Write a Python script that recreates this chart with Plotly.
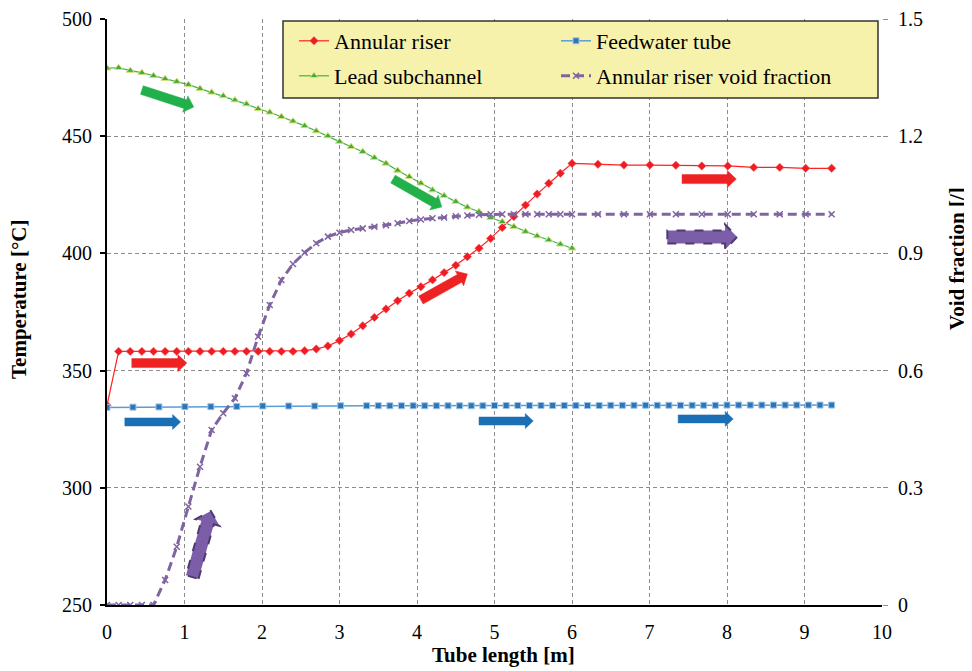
import plotly.graph_objects as go

# ---------------- data ----------------
riser_x = [0, 0.15, 0.3, 0.45, 0.6, 0.75, 0.9, 1.05, 1.2, 1.35, 1.5, 1.65, 1.8, 1.95, 2.1, 2.25, 2.4,
           2.55, 2.7, 2.85, 3.0, 3.15, 3.3, 3.45, 3.6, 3.75, 3.9, 4.05, 4.2, 4.35, 4.5, 4.65, 4.8,
           4.95, 5.1, 5.25, 5.4, 5.55, 5.7, 5.85, 6.0,
           6.335, 6.67, 7.005, 7.34, 7.675, 8.01, 8.345, 8.68, 9.015, 9.35]
riser_T = [335.2, 358.2, 358.2, 358.2, 358.2, 358.2, 358.2, 358.2, 358.2, 358.2, 358.2, 358.2, 358.2,
           358.2, 358.2, 358.2, 358.2,
           358.5, 359.2, 360.5, 362.8, 365.6, 369.1, 372.7, 376.3, 379.8, 383.0, 385.8, 388.7, 391.8,
           394.9, 398.6, 402.2, 406.4, 411.0, 415.7, 420.6, 425.3, 429.9, 434.2, 438.4,
           438.0, 437.7, 437.7, 437.6, 437.3, 437.3, 436.7, 436.7, 436.3, 436.3]

feed_x = [0, 0.335, 0.67, 1.005, 1.34, 1.675, 2.01, 2.345, 2.68, 3.015, 3.35,
          3.5, 3.65, 3.8, 3.95, 4.1, 4.25, 4.4, 4.55, 4.7, 4.85, 5.0, 5.15, 5.3, 5.45, 5.6, 5.75,
          5.9, 6.05, 6.2, 6.35, 6.5, 6.65, 6.8, 6.95, 7.1, 7.25, 7.4, 7.55, 7.7, 7.85, 8.0, 8.15,
          8.3, 8.45, 8.6, 8.75, 8.9, 9.05, 9.2, 9.35]
feed_T = [334.3, 334.4, 334.5, 334.6, 334.6, 334.7, 334.9, 334.9, 334.9, 335.0, 335.0,
          335.0, 335.0, 335.0, 335.0, 335.0, 335.0, 335.0, 335.0, 335.0, 335.0,
          335.1, 335.1, 335.1, 335.1, 335.1, 335.1, 335.1, 335.1, 335.1, 335.1,
          335.2, 335.2, 335.2, 335.2, 335.2, 335.2, 335.2, 335.2, 335.2, 335.2,
          335.3, 335.3, 335.3, 335.3, 335.3, 335.3, 335.3, 335.3, 335.3, 335.3]

lead_x = [0, 0.15, 0.3, 0.45, 0.6, 0.75, 0.9, 1.05, 1.2, 1.35, 1.5, 1.65, 1.8, 1.95, 2.1, 2.25, 2.4,
          2.55, 2.7, 2.85, 3.0, 3.15, 3.3, 3.45, 3.6, 3.75, 3.9, 4.05, 4.2, 4.35, 4.5, 4.65, 4.8,
          4.95, 5.1, 5.25, 5.4, 5.55, 5.7, 5.85, 6.0]
lead_T = [479.0, 479.2, 478.0, 477.1, 475.8, 474.5, 473.3, 472.0, 470.3, 468.7, 467.2, 465.4, 463.7,
          461.7, 460.2, 458.3, 456.4, 454.4, 452.2, 450.1, 447.7, 445.5, 443.4, 440.8, 438.4, 435.4,
          432.7, 429.9, 427.0, 424.6, 422.1, 419.7, 417.8, 415.2, 413.5, 411.4, 409.3, 407.4, 405.7,
          403.9, 402.2]

void_x = riser_x
void_a = [0, 0, 0, 0, 0, 0.064, 0.149, 0.252, 0.354, 0.448, 0.491, 0.529, 0.593, 0.687, 0.768, 0.832,
          0.873, 0.902, 0.926, 0.943, 0.953, 0.960, 0.964, 0.968, 0.972, 0.977, 0.983, 0.987, 0.990,
          0.992, 0.995, 0.997, 0.999, 1.0, 1.0, 1.0, 1.0, 1.0, 1.0, 1.0, 1.0,
          1.0, 1.0, 1.0, 1.0, 1.0, 1.0, 1.0, 1.0, 1.0, 1.0]

x_ticks = [0, 1, 2, 3, 4, 5, 6, 7, 8, 9, 10]
yl_ticks = [250, 300, 350, 400, 450, 500]
yr_ticks = [0, 0.3, 0.6, 0.9, 1.2, 1.5]
yr_labels = ["0", "0.3", "0.6", "0.9", "1.2", "1.5"]

x_title = "Tube length [m]"
yl_title = "Temperature [°C]"
yr_title = "Void fraction [/]"

# flow-direction arrows: (tail x, tail T, tip x, tip T, style)
arrows = [
    (0.32, 353.2, 1.03, 353.2, "red"),
    (4.05, 380.1, 4.65, 391.2, "red"),
    (7.42, 431.7, 8.12, 431.7, "red"),
    (0.45, 469.7, 1.12, 462.5, "green"),
    (3.69, 431.7, 4.32, 419.8, "green"),
    (0.23, 328.1, 0.95, 328.1, "blue"),
    (4.80, 328.5, 5.50, 328.5, "blue"),
    (7.37, 329.4, 8.08, 329.4, "blue"),
    (1.10, 261.9, 1.34, 290.1, "purple"),
    (7.23, 407.0, 8.13, 407.0, "purple"),
]

# ---------------- layout geometry (page has an 8px body margin) ----------------
OFF = 8
W, H = 972 - OFF, 671 - OFF
ML, MT = 107 - OFF, 19 - OFF
PW, PH = 775, 586
MR, MB = W - ML - PW, H - MT - PH
XR = (0, 10)
YR = (250, 500)

FONT = "'Liberation Serif', 'Times New Roman', Times, serif"


def px_to_paper(px, py):
    """page pixel -> paper fraction"""
    fx, fy = px - OFF, py - OFF
    return (fx - ML) / PW, 1 - (fy - MT) / PH


fig = go.Figure()

fig.add_trace(go.Scatter(
    x=riser_x, y=riser_T, name="Annular riser", mode="lines+markers", legend="legend",
    line=dict(color="#ff2020", width=1.2),
    marker=dict(symbol="diamond", size=6.5, color="#ee1c24", line=dict(color="#ff6060", width=0.5))))
fig.add_trace(go.Scatter(
    x=feed_x, y=feed_T, name="Feedwater tube", mode="lines+markers", legend="legend2",
    line=dict(color="#5b9bd5", width=1.5),
    marker=dict(symbol="square", size=6, color="#2e75b6", line=dict(color="#9dc3e6", width=1))))
fig.add_trace(go.Scatter(
    x=lead_x, y=lead_T, name="Lead subchannel", mode="lines+markers", legend="legend3",
    line=dict(color="#3cb44b", width=1.2),
    marker=dict(symbol="triangle-up", size=7, color="#4aa83c", line=dict(color="#d4e27a", width=1))))
fig.add_trace(go.Scatter(
    x=void_x, y=void_a, name="Annular riser void fraction", mode="lines+markers", yaxis="y2",
    legend="legend4",
    line=dict(color="#8064a2", width=3, dash="9px,5px"),
    marker=dict(symbol="x-thin", size=6, color="#8064a2", line=dict(color="#8064a2", width=1.5))))


def to_px(x, y):
    return (ML + (x - XR[0]) / (XR[1] - XR[0]) * PW,
            MT + (YR[1] - y) / (YR[1] - YR[0]) * PH)


def to_data(px, py):
    return (XR[0] + (px - ML) / PW * (XR[1] - XR[0]),
            YR[1] - (py - MT) / PH * (YR[1] - YR[0]))


styles = {
    "red": dict(shaft=9, head_w=17, head_l=9, fill="#ee2222", line="#ee2222", dash="solid"),
    "green": dict(shaft=9, head_w=17, head_l=9, fill="#22b04b", line="#22b04b", dash="solid"),
    "blue": dict(shaft=8, head_w=15, head_l=8, fill="#1a6fb5", line="#1a6fb5", dash="solid"),
    "purple": dict(shaft=13, head_w=25, head_l=12, fill="#7b5ea7", line="#4e3a72", dash="dash"),
}

for (x0, y0, x1, y1, st) in arrows:
    s = styles[st]
    p0 = to_px(x0, y0)
    p1 = to_px(x1, y1)
    dx, dy = p1[0] - p0[0], p1[1] - p0[1]
    L = (dx * dx + dy * dy) ** 0.5
    ux, uy = dx / L, dy / L
    nx, ny = -uy, ux
    hs, hw, hl = s["shaft"] / 2, s["head_w"] / 2, s["head_l"]
    bx, by = p1[0] - ux * hl, p1[1] - uy * hl
    pts = [
        (p0[0] + nx * hs, p0[1] + ny * hs),
        (bx + nx * hs, by + ny * hs),
        (bx + nx * hw, by + ny * hw),
        (p1[0], p1[1]),
        (bx - nx * hw, by - ny * hw),
        (bx - nx * hs, by - ny * hs),
        (p0[0] - nx * hs, p0[1] - ny * hs),
    ]
    dpts = [to_data(*p) for p in pts]
    path = "M " + " L ".join(f"{a:.4f},{b:.4f}" for a, b in dpts) + " Z"
    fig.add_shape(type="path", path=path, xref="x", yref="y",
                  fillcolor=s["fill"], line=dict(color=s["line"], width=2 if st == "purple" else 0.5,
                                                 dash=s["dash"]), layer="above")

# legend box
bx0, by0 = px_to_paper(283, 98)
bx1, by1 = px_to_paper(878, 21)
fig.add_shape(type="rect", xref="paper", yref="paper", x0=bx0, y0=by0, x1=bx1, y1=by1,
              fillcolor="#f6f2ab", line=dict(color="#333333", width=1.5), layer="above")

# axis titles as annotations
tx, ty = px_to_paper(503, 655)
fig.add_annotation(x=tx, y=ty, xref="paper", yref="paper", text=f"<b>{x_title}</b>",
                   showarrow=False, font=dict(family=FONT, size=21), xanchor="center", yanchor="middle")
tx, ty = px_to_paper(19, 300)
fig.add_annotation(x=tx, y=ty, xref="paper", yref="paper", text=f"<b>{yl_title}</b>", textangle=-90,
                   showarrow=False, font=dict(family=FONT, size=21), xanchor="center", yanchor="middle")
tx, ty = px_to_paper(957, 258)
fig.add_annotation(x=tx, y=ty, xref="paper", yref="paper", text=f"<b>{yr_title}</b>", textangle=-90,
                   showarrow=False, font=dict(family=FONT, size=21), xanchor="center", yanchor="middle")

grid = dict(showgrid=True, gridcolor="#8c8c8c", griddash="4px,3px", gridwidth=1)

leg_common = dict(
    orientation="h", bgcolor="rgba(0,0,0,0)",
    borderwidth=0, font=dict(family=FONT, size=22, color="black"), itemwidth=30,
    xanchor="left", yanchor="middle")
c1x, r1y = px_to_paper(294, 41)
c2x, r2y = px_to_paper(556, 76)

fig.update_layout(
    width=W, height=H,
    margin=dict(l=ML, r=MR, t=MT, b=MB, autoexpand=False),
    paper_bgcolor="white", plot_bgcolor="white",
    font=dict(family=FONT, size=20, color="black"),
    showlegend=True,
    legend=dict(x=c1x, y=r1y, **leg_common),
    legend2=dict(x=c2x, y=r1y, **leg_common),
    legend3=dict(x=c1x, y=r2y, **leg_common),
    legend4=dict(x=c2x, y=r2y, **leg_common),
    xaxis=dict(
        range=list(XR), tickvals=x_ticks, ticks="", showline=True, linecolor="black", linewidth=2,
        zeroline=False, tickfont=dict(family=FONT, size=20), automargin=False, ticklabelstandoff=8,
        **grid),
    yaxis=dict(
        range=list(YR), tickvals=yl_ticks, ticks="outside", ticklen=5, tickcolor="black", tickwidth=1.5,
        showline=True, linecolor="black", linewidth=2, zeroline=False, automargin=False,
        tickfont=dict(family=FONT, size=20), ticklabelstandoff=4,
        **grid),
    yaxis2=dict(
        range=[0, 1.5], tickvals=yr_ticks, ticktext=yr_labels, overlaying="y", side="right",
        ticks="outside", ticklen=5, tickcolor="#8c8c8c", showline=False, showgrid=False, zeroline=False,
        tickfont=dict(family=FONT, size=20), automargin=False, ticklabelstandoff=6),
)

fig.write_html("out.html")
